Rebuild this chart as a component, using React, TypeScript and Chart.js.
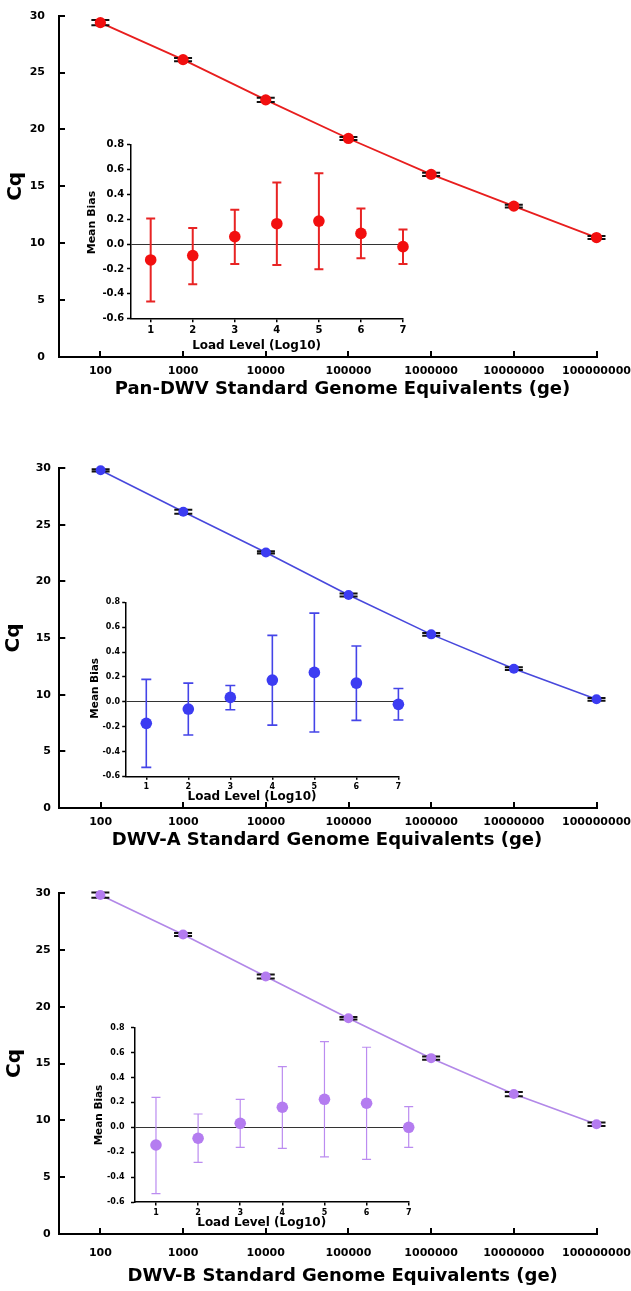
import React, { useEffect, useRef } from 'react';
import { Chart, registerables } from 'chart.js';

Chart.register(...registerables);
Chart.defaults.font.family = '"DejaVu Sans", sans-serif';

// ---------------- data ----------------
const genomeEquivalents = [100, 1000, 10000, 100000, 1000000, 10000000, 100000000];
const genomeTickLabels = ['100', '1000', '10000', '100000', '1000000', '10000000', '100000000'];
const cqTicks = [0, 5, 10, 15, 20, 25, 30];

const panDwvCq = [29.39, 26.14, 22.6, 19.21, 16.05, 13.26, 10.5];
const panDwvCqSd = [0.23, 0.15, 0.18, 0.13, 0.15, 0.13, 0.13];
const dwvACq = [29.8, 26.14, 22.55, 18.8, 15.32, 12.29, 9.59];
const dwvACqSd = [0.1, 0.18, 0.1, 0.13, 0.12, 0.12, 0.12];
const dwvBCq = [29.82, 26.35, 22.66, 18.98, 15.47, 12.31, 9.65];
const dwvBCqSd = [0.23, 0.13, 0.18, 0.1, 0.15, 0.19, 0.15];

const loadLevels = [1, 2, 3, 4, 5, 6, 7];
const loadTickLabels = ['1', '2', '3', '4', '5', '6', '7'];
const biasTicks = [-0.6, -0.4, -0.2, 0, 0.2, 0.4, 0.6, 0.8];
const biasTickLabels = ['-0.6', '-0.4', '-0.2', '0.0', '0.2', '0.4', '0.6', '0.8'];

const panDwvBias = [-0.128, -0.093, 0.059, 0.163, 0.184, 0.085, -0.021];
const panDwvBiasLow = [-0.461, -0.323, -0.16, -0.168, -0.203, -0.115, -0.16];
const panDwvBiasHigh = [0.205, 0.128, 0.275, 0.493, 0.568, 0.285, 0.117];

const dwvABias = [-0.174, -0.059, 0.035, 0.174, 0.236, 0.15, -0.021];
const dwvABiasLow = [-0.528, -0.268, -0.064, -0.188, -0.244, -0.15, -0.147];
const dwvABiasHigh = [0.18, 0.15, 0.131, 0.534, 0.713, 0.448, 0.107];

const dwvBBias = [-0.142, -0.088, 0.032, 0.161, 0.225, 0.193, 0.0];
const dwvBBiasLow = [-0.533, -0.281, -0.161, -0.169, -0.238, -0.257, -0.161];
const dwvBBiasHigh = [0.241, 0.107, 0.225, 0.487, 0.688, 0.643, 0.166];

const xTitles = [
  'Pan-DWV Standard Genome Equivalents (ge)',
  'DWV-A Standard Genome Equivalents (ge)',
  'DWV-B Standard Genome Equivalents (ge)',
];
const yTitle = 'Cq';
const insetYTitle = 'Mean Bias';
const insetXTitle = 'Load Level (Log10)';

// ---------------- layout / style ----------------
const PAGE_W = 631;
const FONT = '"DejaVu Sans", sans-serif';

const panels = [
  {
    xTitle: xTitles[0], cq: panDwvCq, sd: panDwvCqSd,
    bias: panDwvBias, low: panDwvBiasLow, high: panDwvBiasHigh,
    color: '#f20f0f', lineColor: '#e81e1e', barColor: '#e82424',
    main: { T: 15.7, B: 357, L: 59, R: 596.5, cTop: 2, cH: 401, yPad: 20, xPad: 13.4,
      title: [342.5, 389], cqX: 15.5, pointR: 5.6, lineW: 1.8 },
    inset: { T: 144.3, B: 318.8, L: 130.5, R: 403, xMin: 0.52, tickSize: 10, yPad: 2.7, xPad: 1.7,
      mb: [91.7, 222.5, 11], ll: [256.6, 345.7, 12], barW: 2, capHalf: 4.5 },
  },
  {
    xTitle: xTitles[1], cq: dwvACq, sd: dwvACqSd,
    bias: dwvABias, low: dwvABiasLow, high: dwvABiasHigh,
    color: '#3c3cf2', lineColor: '#4848dc', barColor: '#4444e8',
    main: { T: 468, B: 808, L: 59.3, R: 596.5, cTop: 454, cH: 401, yPad: 14.3, xPad: 13.7,
      title: [327, 840.5], cqX: 14, pointR: 5, lineW: 1.6 },
    inset: { T: 602.3, B: 776.3, L: 125.7, R: 398.4, xMin: 0.51, tickSize: 8, yPad: 2.2, xPad: 2.1,
      mb: [95, 688.3, 10.5], ll: [252, 796.5, 12], barW: 1.6, capHalf: 5 },
  },
  {
    xTitle: xTitles[2], cq: dwvBCq, sd: dwvBCqSd,
    bias: dwvBBias, low: dwvBBiasLow, high: dwvBBiasHigh,
    color: '#b47cf0', lineColor: '#b288e8', barColor: '#bb8cf0',
    main: { T: 893, B: 1234, L: 59, R: 596.5, cTop: 879, cH: 410, yPad: 14.3, xPad: 18.7,
      title: [342.7, 1276.7], cqX: 14.5, pointR: 5, lineW: 1.7 },
    inset: { T: 1027.7, B: 1202, L: 134.5, R: 408.7, xMin: 0.49, tickSize: 8, yPad: 6.5, xPad: 2.4,
      mb: [99, 1115, 10.5], ll: [261.7, 1222.7, 12], barW: 1.2, capHalf: 4.5 },
  },
];

// ---------------- plugins ----------------
const errorBarPlugin = {
  id: 'errorBars',
  beforeDatasetDraw(chart: any, args: any) {
    const ds: any = chart.data.datasets[args.index];
    if (!ds || !ds.errLow) return;
    const { ctx } = chart;
    const xs = chart.scales.x;
    const ys = chart.scales.y;
    ctx.save();
    ctx.strokeStyle = ds.errColor;
    ctx.lineWidth = ds.errWidth;
    ds.data.forEach((p: any, i: number) => {
      const px = xs.getPixelForValue(p.x);
      const yl = ys.getPixelForValue(ds.errLow[i]);
      const yh = ys.getPixelForValue(ds.errHigh[i]);
      const hw = ds.capHalf;
      ctx.beginPath();
      ctx.moveTo(px, yl);
      ctx.lineTo(px, yh);
      ctx.moveTo(px - hw, yl);
      ctx.lineTo(px + hw, yl);
      ctx.moveTo(px - hw, yh);
      ctx.lineTo(px + hw, yh);
      ctx.stroke();
    });
    ctx.restore();
  },
};

function makeTextPlugin(items: any[]) {
  return {
    id: 'freeText',
    afterDraw(chart: any) {
      const ctx = chart.ctx;
      items.forEach((t) => {
        ctx.save();
        ctx.font = t.font;
        ctx.fillStyle = '#000';
        ctx.textAlign = 'center';
        ctx.textBaseline = 'middle';
        ctx.translate(t.x, t.y);
        if (t.rot) ctx.rotate(t.rot);
        ctx.fillText(t.text, 0, 0);
        ctx.restore();
      });
    },
  };
}

function clearScalePadding(s: any) {
  s.paddingLeft = 0;
  s.paddingRight = 0;
  s.paddingTop = 0;
  s.paddingBottom = 0;
}

// ---------------- charts ----------------
function MainChart({ p }: { p: any }) {
  const ref = useRef<HTMLCanvasElement>(null);
  const g = p.main;
  useEffect(() => {
    const tickFont = { family: FONT, size: 11, weight: 'bold' as const };
    const axisGrid = { display: true, drawOnChartArea: false, drawTicks: true, tickLength: -6, color: '#000', lineWidth: 2 };
    const axisBorder = { display: true, color: '#000', width: 2 };
    const pts = genomeEquivalents.map((x, i) => ({ x, y: p.cq[i] }));
    const chart = new Chart(ref.current as HTMLCanvasElement, {
      type: 'scatter',
      data: {
        datasets: [
          {
            data: pts,
            showLine: false,
            clip: false,
            pointRadius: g.pointR,
            pointBackgroundColor: p.color,
            pointBorderColor: p.color,
            pointBorderWidth: 0,
            errLow: p.cq.map((v: number, i: number) => v - p.sd[i]),
            errHigh: p.cq.map((v: number, i: number) => v + p.sd[i]),
            errColor: '#111',
            errWidth: 2,
            capHalf: 9,
          } as any,
          {
            data: pts,
            showLine: true,
            clip: false,
            pointRadius: 0,
            borderColor: p.lineColor,
            borderWidth: g.lineW,
            tension: 0,
          } as any,
        ],
      },
      options: {
        responsive: false,
        animation: false,
        devicePixelRatio: 1,
        layout: { autoPadding: false, padding: { top: g.T - g.cTop, right: PAGE_W - g.R, bottom: 0, left: 0 } },
        plugins: { legend: { display: false }, tooltip: { enabled: false } },
        scales: {
          x: {
            type: 'logarithmic',
            min: 31.6,
            max: 100000000,
            afterBuildTicks: (s: any) => { s.ticks = genomeEquivalents.map((v) => ({ value: v })); },
            afterFit: (s: any) => { s.height = g.cH - (g.B - g.cTop); clearScalePadding(s); },
            ticks: {
              autoSkip: false, maxRotation: 0, minRotation: 0, padding: g.xPad, color: '#000', font: tickFont,
              callback: (_v: any, i: number) => genomeTickLabels[i],
            },
            grid: axisGrid,
            border: axisBorder,
          },
          y: {
            type: 'linear',
            min: 0,
            max: 30,
            afterBuildTicks: (s: any) => { s.ticks = cqTicks.map((v) => ({ value: v })); },
            afterFit: (s: any) => { s.width = g.L; clearScalePadding(s); },
            ticks: { padding: g.yPad, color: '#000', font: tickFont, callback: (v: any) => String(v) },
            grid: axisGrid,
            border: axisBorder,
          },
        },
      } as any,
      plugins: [
        errorBarPlugin,
        makeTextPlugin([
          { text: p.xTitle, x: g.title[0], y: g.title[1] - g.cTop, font: `bold 18px ${FONT}` },
          { text: yTitle, x: g.cqX, y: (g.T + g.B) / 2 - g.cTop, font: `bold 20px ${FONT}`, rot: -Math.PI / 2 },
        ]),
      ] as any,
    });
    return () => chart.destroy();
  }, []);
  return (
    <canvas
      ref={ref}
      width={PAGE_W}
      height={g.cH}
      style={{ position: 'absolute', left: 0, top: g.cTop, width: PAGE_W, height: g.cH }}
    />
  );
}

function InsetChart({ p }: { p: any }) {
  const ref = useRef<HTMLCanvasElement>(null);
  const g = p.inset;
  const cLeft = 70;
  const cTop = Math.floor(g.T - 12);
  const cW = Math.ceil(g.R + 16 - cLeft);
  const cH = Math.ceil(g.ll[1] + 10 - cTop);
  useEffect(() => {
    const tickFont = { family: FONT, size: g.tickSize, weight: 'bold' as const };
    const chart = new Chart(ref.current as HTMLCanvasElement, {
      type: 'scatter',
      data: {
        datasets: [
          {
            data: loadLevels.map((x, i) => ({ x, y: p.bias[i] })),
            showLine: false,
            clip: false,
            pointRadius: 5.8,
            pointBackgroundColor: p.color,
            pointBorderColor: p.color,
            pointBorderWidth: 0,
            errLow: p.low,
            errHigh: p.high,
            errColor: p.barColor,
            errWidth: g.barW,
            capHalf: g.capHalf,
          } as any,
        ],
      },
      options: {
        responsive: false,
        animation: false,
        devicePixelRatio: 1,
        layout: { autoPadding: false, padding: { top: g.T - cTop, right: cLeft + cW - g.R, bottom: 0, left: 0 } },
        plugins: { legend: { display: false }, tooltip: { enabled: false } },
        scales: {
          x: {
            type: 'linear',
            min: g.xMin,
            max: 7,
            afterBuildTicks: (s: any) => { s.ticks = loadLevels.map((v) => ({ value: v })); },
            afterFit: (s: any) => { s.height = cH - (g.B - cTop); clearScalePadding(s); },
            ticks: {
              autoSkip: false, maxRotation: 0, minRotation: 0, padding: g.xPad, color: '#000', font: tickFont,
              callback: (_v: any, i: number) => loadTickLabels[i],
            },
            grid: { display: true, drawOnChartArea: false, drawTicks: true, tickLength: 3.5, color: '#000', lineWidth: 1.5 },
            border: { display: true, color: '#000', width: 1.5 },
          },
          y: {
            type: 'linear',
            min: -0.6,
            max: 0.8,
            afterBuildTicks: (s: any) => { s.ticks = biasTicks.map((v) => ({ value: v })); },
            afterFit: (s: any) => { s.width = g.L - cLeft; clearScalePadding(s); },
            ticks: {
              padding: g.yPad, color: '#000', font: tickFont,
              callback: (_v: any, i: number) => biasTickLabels[i],
            },
            grid: {
              display: true,
              drawOnChartArea: true,
              drawTicks: true,
              tickLength: 3.5,
              color: (c: any) => (c.tick && c.tick.value === 0 ? '#333' : 'rgba(0,0,0,0)'),
              tickColor: '#000',
              lineWidth: 1,
              tickWidth: 1.5,
            },
            border: { display: true, color: '#000', width: 1.5 },
          },
        },
      } as any,
      plugins: [
        errorBarPlugin,
        makeTextPlugin([
          { text: insetYTitle, x: g.mb[0] - cLeft, y: g.mb[1] - cTop, font: `bold ${g.mb[2]}px ${FONT}`, rot: -Math.PI / 2 },
          { text: insetXTitle, x: g.ll[0] - cLeft, y: g.ll[1] - cTop, font: `bold ${g.ll[2]}px ${FONT}` },
        ]),
      ] as any,
    });
    return () => chart.destroy();
  }, []);
  return (
    <canvas
      ref={ref}
      width={cW}
      height={cH}
      style={{ position: 'absolute', left: cLeft, top: cTop, width: cW, height: cH }}
    />
  );
}

export default function App() {
  return (
    <div
      style={{
        position: 'absolute', left: 0, top: 0, width: PAGE_W, height: 1291,
        overflow: 'hidden', background: '#fff',
      }}
    >
      {panels.map((p, i) => (
        <React.Fragment key={i}>
          <MainChart p={p} />
          <InsetChart p={p} />
        </React.Fragment>
      ))}
    </div>
  );
}
